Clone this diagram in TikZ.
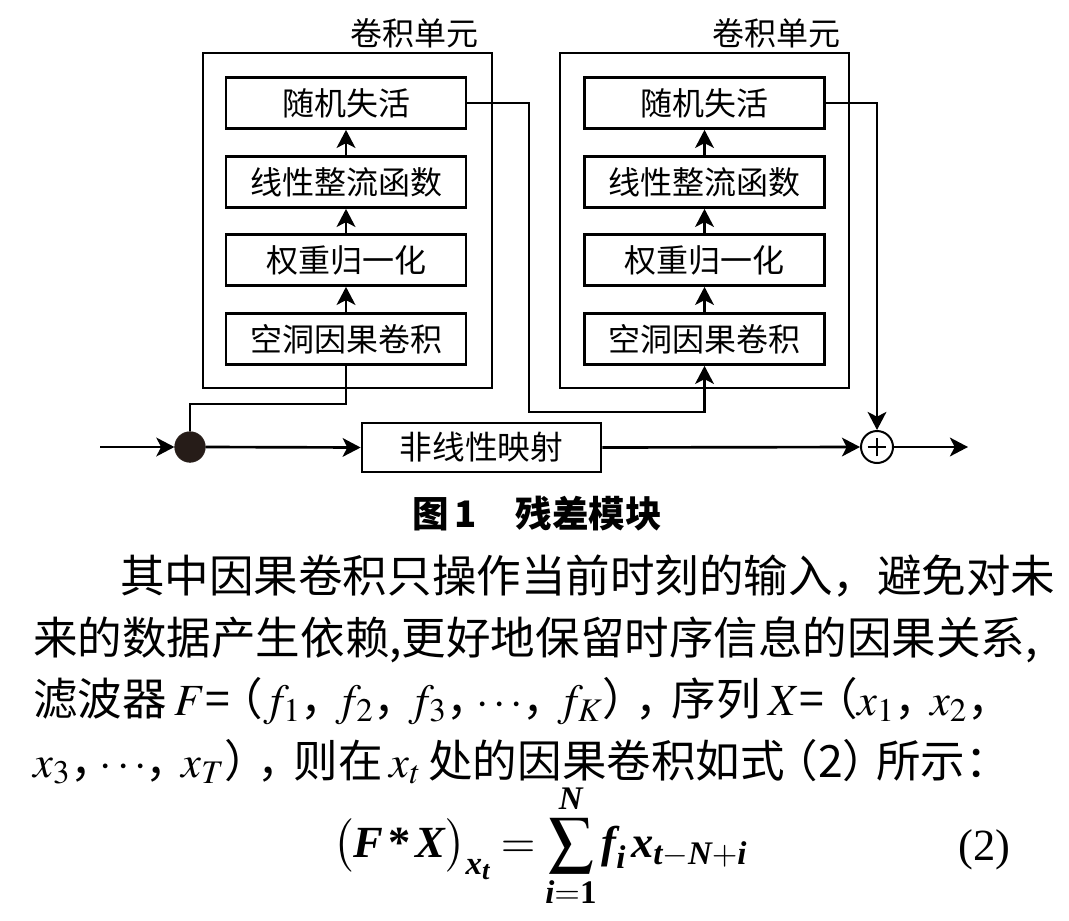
\documentclass[tikz,border=0pt]{standalone}
\usepackage{mathptmx}
\usepackage{amsmath}
\usepackage{fontspec}
\setmainfont{Liberation Serif}
\newfontfamily\cjk{Noto Sans CJK SC}
\usetikzlibrary{arrows.meta}
\definecolor{dotc}{RGB}{38,28,24}
\newcommand\cm{\makebox[0.8em][l]{，}}
\newcommand\lp{\makebox[0.75em][r]{（}}
\newcommand\rp{\makebox[0.75em][l]{）}}
\newcommand\dts{\makebox[0.9em][c]{$\cdots$}}
\newcommand\bv[1]{\text{\bfseries\itshape #1}}
\tikzset{
  lw/.style={line width=2pt},
  tip/.tip={Stealth[length=13.5pt,width=14pt,inset=3.5pt]},
  arr/.style={lw,-tip},
}
\begin{document}
\begin{tikzpicture}[x=0.75pt,y=-0.75pt,
  box/.style={draw,lw,minimum width=180pt,minimum height=38.25pt,inner sep=0pt,font=\cjk\fontsize{24}{24}\selectfont},
  unit/.style={draw,lw,minimum width=216.75pt,minimum height=251.25pt,inner sep=0pt},
  ttl/.style={font=\cjk\fontsize{24}{24}\selectfont,inner sep=0pt},
  con/.style={lw},
  para/.style={font=\cjk\fontsize{33.4}{40}\selectfont,inner sep=0pt,anchor=base west}
]
\useasboundingbox[fill=white] (0,0) rectangle (1069,920);

% convolution units (outer frames)
\node[unit] (u1) at (347.5,220.5) {};
\node[unit] (u2) at (704.5,220.5) {};
\node[ttl] (t1) at (414.5,33) {卷积单元};
\node[ttl] (t2) at (776.5,33) {卷积单元};

% inner boxes, left unit
\node[box] (a1) at (346,103) {随机失活};
\node[box] (a2) at (346,182) {线性整流函数};
\node[box] (a3) at (346,260) {权重归一化};
\node[box] (a4) at (346,339) {空洞因果卷积};
% inner boxes, right unit
\node[box] (b1) at (704.5,103) {随机失活};
\node[box] (b2) at (704.5,182) {线性整流函数};
\node[box] (b3) at (704.5,260) {权重归一化};
\node[box] (b4) at (704.5,339) {空洞因果卷积};

% main line
\node[box,minimum width=179.25pt,minimum height=36.75pt,font=\cjk\fontsize{24.5}{24.5}\selectfont] (nl) at (481.5,447.5) {非线性映射};
\node[circle,fill=dotc,draw=dotc,inner sep=0pt,minimum size=23pt] (dot) at (190,447) {};
\node[circle,draw,line width=1.5pt,inner sep=0pt,minimum size=24pt,
  path picture={\draw[line width=0.8pt] ([xshift=-7pt]path picture bounding box.center) -- ([xshift=7pt]path picture bounding box.center);
                \draw[line width=0.8pt] ([yshift=-7pt]path picture bounding box.center) -- ([yshift=7pt]path picture bounding box.center);}] (plus) at (877,447) {};
\coordinate (in) at (100,447);
\coordinate (out) at (968,447);
\coordinate (k1) at (529,412);
\coordinate (k2) at (346,404);

% arrows inside units
\draw[arr] (a4.north) -- (a3.south);
\draw[arr] (a3.north) -- (a2.south);
\draw[arr] (a2.north) -- (a1.south);
\draw[arr] (b4.north) -- (b3.south);
\draw[arr] (b3.north) -- (b2.south);
\draw[arr] (b2.north) -- (b1.south);

% connectors
\draw[arr] (in) -- (dot.west);
\draw[arr] (dot.east) -- (nl.west);
\draw[arr] (nl.east) -- (plus.west);
\draw[arr] (plus.east) -- (out);
\draw[con] (a4.south) -- (k2) -| (dot.north);
\draw[arr] (a1.east) -| (k1) -| (b4.south);
\draw[arr] (b1.east) -| (plus.north);

% caption
\node[font=\cjk\bfseries\fontsize{27.4}{30}\selectfont,anchor=base west,inner sep=0pt] (cap) at (412,527) {图\,1\hspace{1.05em}残差模块};

% body text
\node[para] (l1) at (120,592) {其中因果卷积只操作当前时刻的输入，避免对未};
\node[para] (l2) at (33,654) {来的数据产生依赖,更好地保留时序信息的因果关系,};
\node[para] (l3) at (33,715) {滤波器\,$F$=\lp$f_1$\cm$f_2$\cm$f_3$\cm\dts\cm$f_K$\rp\cm 序列\,$X$=\lp$x_1$\cm$x_2$\cm};
\node[para] (l4) at (33,777) {$x_3$\cm\dts\cm$x_T$\rp\cm 则在\,$x_t$\,处的因果卷积如式\lp 2\rp 所示：};

% equation
\node[font=\fontsize{33.4}{40}\selectfont,inner sep=0pt,anchor=base west] (eq) at (333,857)
  {$\displaystyle \bigl(\bv{F}\,\text{\bfseries *}\,\bv{X}\bigr)_{\bv{x}_{\bv{t}}}=\sum_{\bv{i}=\textbf{1}}^{\bv{N}}\bv{f}_{\bv{i}}\,\bv{x}_{\bv{t}-\bv{N}+\bv{i}}$};
\node[font=\fontsize{33.4}{40}\selectfont,inner sep=0pt,anchor=base west] (eqn) at (958,860) {(2)};
\end{tikzpicture}
\end{document}
